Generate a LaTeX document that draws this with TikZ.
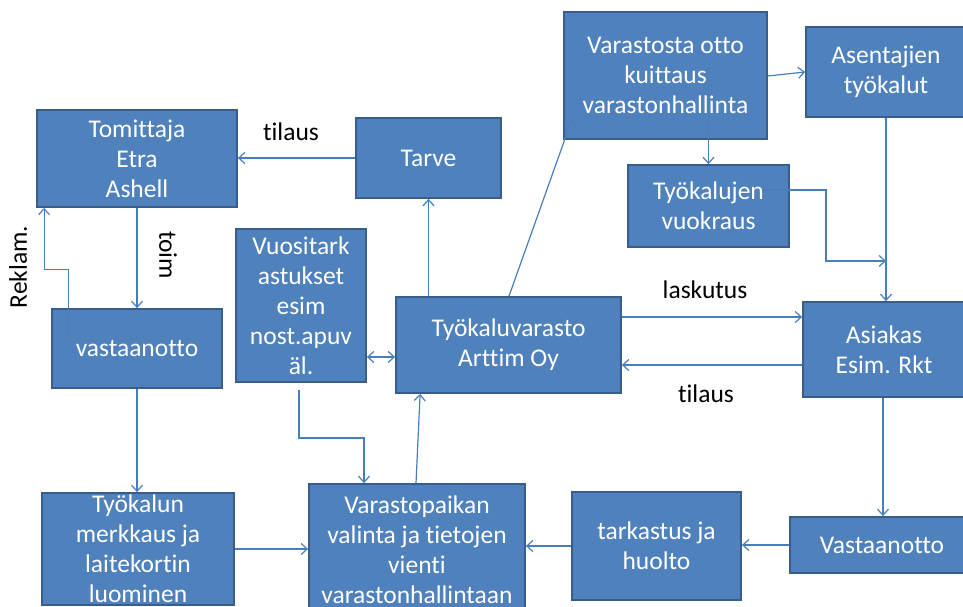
\documentclass[tikz,border=0pt]{standalone}
\usepackage{fontspec}
\setmainfont[Ligatures=NoCommon]{Carlito}
\usetikzlibrary{arrows.meta,calc}
\definecolor{boxfill}{HTML}{4F81BD}
\definecolor{boxborder}{HTML}{385D8A}
\definecolor{linec}{HTML}{4A7EBB}
\begin{document}
\begin{tikzpicture}[x=1pt,y=-1pt,
  box/.style={draw=boxborder, line width=1.8pt, fill=boxfill, inner sep=0pt},
  boxtext/.style={text=white, align=center, inner sep=0pt, font=\fontsize{25.5}{30}\selectfont},
  lbl/.style={text=black, inner sep=0pt, font=\fontsize{25.5}{30}\selectfont},
  arr/.style={draw=linec, line width=1.2pt, -{Straight Barb[length=6pt,width=11pt]}},
  arrb/.style={draw=linec, line width=1.2pt, {Straight Barb[length=6pt,width=11pt]}-{Straight Barb[length=6pt,width=11pt]}}
]
\useasboundingbox (0,0) rectangle (963,607);
\clip (0,0) rectangle (963,607);

% boxes
\node[box, minimum width=200pt, minimum height=97pt,
  label={[boxtext]center:Tomittaja\\Etra\\Ashell}] (tom) at (137,158.5) {};
\node[box, minimum width=145pt, minimum height=80pt,
  label={[boxtext]center:Tarve}] (tarve) at (428.5,158) {};
\node[box, minimum width=130pt, minimum height=153pt,
  label={[boxtext]center:Vuositark\\astukset\\esim\\nost.apuv\\äl.}] (vuosi) at (301,305.5) {};
\node[box, minimum width=225pt, minimum height=96pt,
  label={[boxtext]center:Työkaluvarasto\\Arttim Oy}] (tyv) at (508.5,345) {};
\node[box, minimum width=203pt, minimum height=127pt,
  label={[boxtext]center:Varastosta otto\\kuittaus\\varastonhallinta}] (vo) at (665.5,75.5) {};
\node[box, minimum width=160pt, minimum height=90pt,
  label={[boxtext]center:Asentajien\\työkalut}] (ase) at (886,72) {};
\node[box, minimum width=161pt, minimum height=82pt,
  label={[boxtext]center:Työkalujen\\vuokraus}] (tyovuok) at (708.5,206) {};
\node[box, minimum width=162pt, minimum height=95pt,
  label={[boxtext]center:Asiakas\\Esim. Rkt}] (asi) at (884,349.5) {};
\node[box, minimum width=184pt, minimum height=56pt,
  label={[boxtext]center:Vastaanotto}] (vast2) at (882,545) {};
\node[box, minimum width=169pt, minimum height=108pt,
  label={[boxtext]center:tarkastus ja\\huolto}] (tark) at (656.5,546) {};
\node[box, minimum width=216pt, minimum height=132pt,
  label={[boxtext]center:Varastopaikan\\valinta ja tietojen\\vienti\\varastonhallintaan}] (vpaik) at (417,550) {};
\node[box, minimum width=192pt, minimum height=112pt,
  label={[boxtext]center:Työkalun\\merkkaus ja\\laitekortin\\luominen}] (tkm) at (138,549) {};
\node[box, minimum width=170pt, minimum height=79pt,
  label={[boxtext]center:vastaanotto}] (vast1) at (137,348.5) {};

% labels
\node[lbl] (l1) at (291,132) {tilaus};
\node[lbl] (l2) at (705,290) {laskutus};
\node[lbl] (l3) at (706,394) {tilaus};
\node[lbl, rotate=-90] (l4) at (168,255) {toim};
\node[lbl, rotate=90] (l5) at (18,267) {Reklam.};

% connectors
\draw[arr] (tarve.west) -- (tarve.west -| tom.east);
\draw[arr] (tom.south) -- (vast1.north);
\coordinate (rk) at ($(vast1.north west)+(17,31)$);
\draw[arr] (rk) -- ++(0,-70) -| ($(tom.south west)+(8,0)$);
\draw[arr] (tyv.north -| tarve.south) -- (tarve.south);
\draw[arrb] (vuosi.east |- 0,357) -- (tyv.west |- 0,357);
\draw[arr] ($(vuosi.south)+(-2,7)$) -- ++(0,48) -| ($(vpaik.north)+(-53,0)$);
\draw[arr] ($(vpaik.north)+(-1,0)$) -- ($(tyv.south west)+(25,0)$);
\draw[arr] ($(tyv.north)+(0.5,0)$) -- ($(vo.south west)+(9,-21)$);
\draw[arr] ($(vo.east)+(0,0.5)$) -- (ase.west);
\draw[arr] ($(vo.center)+(43,-7.5)$) -- (tyovuok.north);
\draw[arr] ($(tyovuok.center)+(54.5,-16)$) -- ++(63,0) -- ++(0,71) -- (ase.south |- 0,261);
\draw[arr] (ase.south) -- (ase.south |- asi.north);
\draw[arr] (tyv.east |- 0,317) -- (asi.west |- 0,317);
\draw[arr] (asi.west |- 0,365) -- (tyv.east |- 0,365);
\draw[arr] (asi.south -| 883,0) -- (vast2.north -| 883,0);
\draw[arr] (vast2.west) -- (tark.east |- vast2.west);
\draw[arr] (tark.west) -- (vpaik.east |- tark.west);
\draw[arr] (tkm.east) -- (vpaik.west |- tkm.east);
\draw[arr] (vast1.south) -- (vast1.south |- tkm.north);
\end{tikzpicture}
\end{document}
